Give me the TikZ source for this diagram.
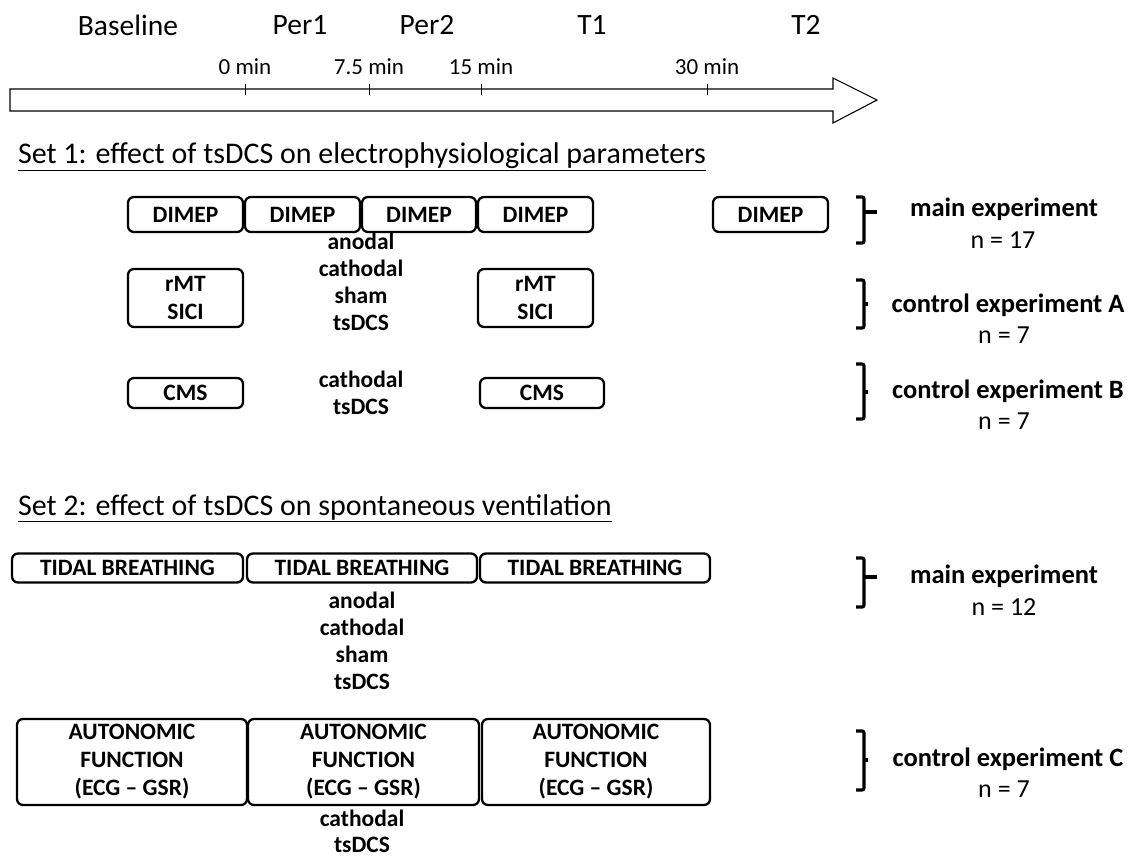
\documentclass[tikz,border=0pt]{standalone}
\usepackage{fontspec}
\setmainfont{Carlito}
\begin{document}
\begin{tikzpicture}[x=1pt,y=-1pt,
  every node/.style={inner sep=0pt, outer sep=0pt},
  toplab/.style={font=\fontsize{29.5}{32}\selectfont},
  ticklab/.style={font=\fontsize{23}{26}\selectfont},
  head/.style={font=\fontsize{30}{34}\selectfont, anchor=west},
  bx/.style={draw, line width=2.3pt, rounded corners=6pt, align=center,
     font=\bfseries\fontsize{23.5}{28}\selectfont},
  lbl/.style={font=\bfseries\fontsize{23.5}{27}\selectfont, align=center},
  exp/.style={font=\bfseries\fontsize{26.5}{30}\selectfont},
  nlab/.style={font=\fontsize{26}{30}\selectfont},
  brk/.style={line width=3.2pt, rounded corners=2pt},
  tick/.style={line width=0.9pt}]
\useasboundingbox (0,0) rectangle (1134,859);

% top labels
\node[toplab] (lb) at (128,25) {Baseline};
\node[toplab] (lp1) at (300,25) {Per1};
\node[toplab] (lp2) at (427,25) {Per2};
\node[toplab] (lt1) at (592,25) {T1};
\node[toplab] (lt2) at (806,25) {T2};

% time arrow
\draw[line width=1.1pt] (10,89) -- (833,89) -- (833,78) -- (877,100) -- (833,123) -- (833,111) -- (10,111) -- cycle;
\foreach \x/\t/\n in {245/0 min/a,369/7.5 min/b,481/15 min/c,707/30 min/d}{
  \draw[tick] (\x,84) -- (\x,95);
  \node[ticklab] (t\n) at (\x,67) {\t};
}

% Set 1
\node[head] (h1) at (18,157) {\underline{Set 1: effect of tsDCS on electrophysiological parameters}};

\node[bx, minimum width=115pt, minimum height=35pt] (d0) at (185.5,214.5) {DIMEP};
\node[bx, minimum width=115pt, minimum height=35pt] (d1) at (302.5,214.5) {DIMEP};
\node[bx, minimum width=114pt, minimum height=35pt] (d2) at (419,214.5) {DIMEP};
\node[bx, minimum width=115pt, minimum height=35pt] (d3) at (535.5,214.5) {DIMEP};
\node[bx, minimum width=115pt, minimum height=35pt] (d4) at (770.5,214.5) {DIMEP};

\node[lbl] (s1) at (361,282) {anodal\\cathodal\\sham\\tsDCS};

\node[bx, minimum width=115pt, minimum height=58pt] (r0) at (185.5,298) {rMT\\SICI};
\node[bx, minimum width=115pt, minimum height=58pt] (r1) at (535.5,298) {rMT\\SICI};

\node[bx, minimum width=115pt, minimum height=30pt] (c0) at (185.5,393) {CMS};
\node[bx, minimum width=124pt, minimum height=30pt] (c1) at (542,393) {CMS};
\node[lbl] (s2) at (361,393) {cathodal\\tsDCS};

% brackets set 1
\draw[brk] (856,197) -| (864,243) -- (856,243);
\draw[brk] (864,212) -- (877,212);
\draw[brk] (856,280) -| (864,328) -- (856,328);
\draw[brk] (864,304) -- (868,304);
\draw[brk] (856,364) -| (864,419) -- (856,419);
\draw[brk] (864,392) -- (868,392);

\node[exp] (e1) at (1004,209) {main experiment};
\node[nlab] (n1) at (1003,240) {n = 17};
\node[exp] (e2) at (1008,305) {control experiment A};
\node[nlab] (n2) at (1004,335) {n = 7};
\node[exp] (e3) at (1008,391) {control experiment B};
\node[nlab] (n3) at (1004,421) {n = 7};

% Set 2
\node[head] (h2) at (18,508) {\underline{Set 2: effect of tsDCS on spontaneous ventilation}};

\node[bx, minimum width=231pt, minimum height=29pt] (tb0) at (127.5,568) {TIDAL BREATHING};
\node[bx, minimum width=230pt, minimum height=29pt] (tb1) at (362,568) {TIDAL BREATHING};
\node[bx, minimum width=230pt, minimum height=29pt] (tb2) at (595,568) {TIDAL BREATHING};

\node[lbl] (s3) at (362,641) {anodal\\cathodal\\sham\\tsDCS};

\node[bx, minimum width=230pt, minimum height=86pt] (a0) at (132,762) {AUTONOMIC\\FUNCTION\\(ECG -- GSR)};
\node[bx, minimum width=231pt, minimum height=86pt] (a1) at (363.5,762) {AUTONOMIC\\FUNCTION\\(ECG -- GSR)};
\node[bx, minimum width=228pt, minimum height=86pt] (a2) at (596,762) {AUTONOMIC\\FUNCTION\\(ECG -- GSR)};

\node[lbl, font=\bfseries\fontsize{23.5}{26}\selectfont] (s4) at (362,831) {cathodal\\tsDCS};

% brackets set 2
\draw[brk] (856,558) -| (864,607) -- (856,607);
\draw[brk] (864,577) -- (877,577);
\draw[brk] (856,731) -| (864,790) -- (856,790);
\draw[brk] (864,760) -- (868,760);

\node[exp] (e4) at (1004,576) {main experiment};
\node[nlab] (n4) at (1004,607) {n = 12};
\node[exp] (e5) at (1008,759) {control experiment C};
\node[nlab] (n5) at (1004,789) {n = 7};
\end{tikzpicture}
\end{document}
